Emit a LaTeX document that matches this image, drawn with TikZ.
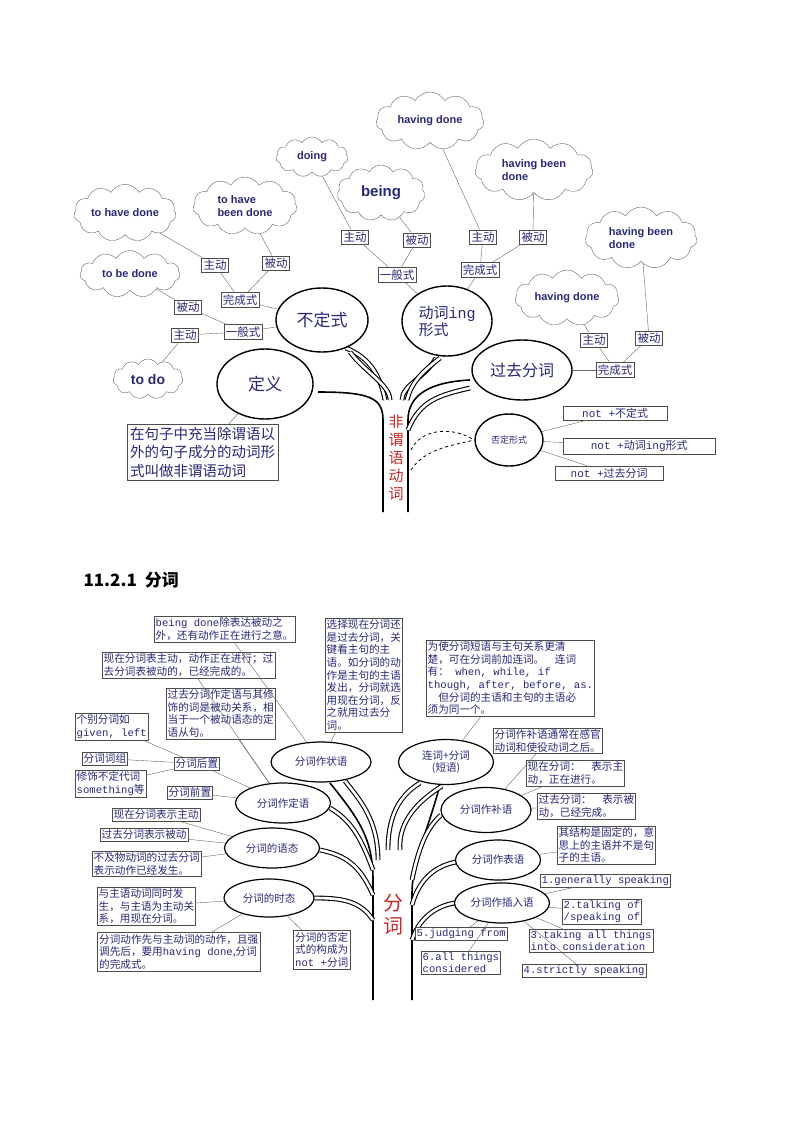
\documentclass[tikz,border=0pt]{standalone}
\usepackage{fontspec}
\setmainfont{Noto Sans CJK SC}
\setmonofont{Liberation Mono}
\newfontfamily\cloudfont{Liberation Sans}
\usetikzlibrary{shapes.symbols,shapes.geometric}
\definecolor{ink}{RGB}{40,40,120}
\definecolor{redink}{RGB}{200,40,40}
\tikzset{
 cl/.style={cloud,cloud puffs=11,cloud puff arc=120,aspect=2.2,draw=black!60,thin,inner sep=0pt,
   font=\cloudfont\bfseries\fontsize{11}{12.5}\selectfont,text=ink,align=left},
 bx/.style={draw=black!70,thin,inner sep=2pt,text=ink,font=\fontsize{11.5}{13}\selectfont,fill=white},
 sb/.style={draw=black!70,thin,inner sep=1.5pt,text=ink,font=\fontsize{10.6}{12.6}\selectfont,align=left,fill=white,anchor=north west},
 el/.style={ellipse,draw=black,line width=1.4pt,inner sep=0pt,text=ink,fill=white},
 ln/.style={draw=black!60,thin},
 br/.style={line width=1.1pt,double=white,double distance=2.6pt},
 tr/.style={line width=1.6pt},
}
\begin{document}
\begin{tikzpicture}[x=1pt,y=-1pt]
\useasboundingbox (0,0) rectangle (800,1132);
% ================= TOP TREE =================
\draw[tr] (383,512) -- (383,420) .. controls (383,398) and (370,392) .. (318,392);
\draw[tr] (408,512) -- (408,420) .. controls (408,395) and (430,382) .. (470,380);
\draw[br] (385,400) .. controls (380,375) and (370,358) .. (346,348);
\draw[br] (390,400) .. controls (390,385) and (365,372) .. (350,352);
\draw[br] (402,400) .. controls (402,385) and (425,378) .. (436,358);
\draw[br] (407,400) .. controls (412,380) and (425,370) .. (440,358);
\draw[br] (408,430) .. controls (420,400) and (440,395) .. (470,388);
\node[font=\fontsize{15}{18}\selectfont,text=redink,align=center] (fw) at (396,458) {非\\谓\\语\\动\\词};

\node[el,minimum width=92,minimum height=64,font=\fontsize{17}{19}\selectfont] (bdx) at (322,320) {不定式};
\node[el,minimum width=90,minimum height=70,font=\fontsize{15}{17}\selectfont,align=left] (ing) at (447,321) {动词\texttt{ing}\\形式};
\node[el,minimum width=96,minimum height=70,font=\fontsize{17}{19}\selectfont] (dy) at (265,384) {定义};
\node[el,minimum width=100,minimum height=60,font=\fontsize{16}{18}\selectfont] (gq) at (522,370) {过去分词};
\node[el,minimum width=68,minimum height=52,font=\fontsize{9}{10}\selectfont] (fd) at (509,440) {否定形式};

\node[cl,minimum width=108,minimum height=58] (c1) at (430,121) {having done};
\node[cl,minimum width=72,minimum height=40] (c2) at (312,157) {doing};
\node[cl,minimum width=118,minimum height=62] (c3) at (534,170) {having been\\done};
\node[cl,minimum width=88,minimum height=56,font=\cloudfont\bfseries\fontsize{15}{17}\selectfont] (c4) at (381,193) {being};
\node[cl,minimum width=102,minimum height=52] (c5) at (125,213) {to have done};
\node[cl,minimum width=104,minimum height=58] (c6) at (245,206) {to have\\been done};
\node[cl,minimum width=112,minimum height=62] (c7) at (641,238) {having been\\done};
\node[cl,minimum width=100,minimum height=46] (c8) at (130,274) {to be done};
\node[cl,minimum width=104,minimum height=56] (c9) at (567,298) {having done};
\node[cl,minimum width=70,minimum height=40,font=\cloudfont\bfseries\fontsize{14}{16}\selectfont] (c10) at (148,379) {to do};

\node[bx] (a1) at (355,237) {主动};
\node[bx] (a2) at (417,240) {被动};
\node[bx] (a3) at (483,237) {主动};
\node[bx] (a4) at (533,237) {被动};
\node[bx] (a5) at (215,265) {主动};
\node[bx] (a6) at (276,263) {被动};
\node[bx] (g1) at (397,275) {一般式};
\node[bx] (g2) at (480,270) {完成式};
\node[bx] (g3) at (240,300) {完成式};
\node[bx] (a7) at (188,307) {被动};
\node[bx] (g4) at (243,332) {一般式};
\node[bx] (a8) at (185,335) {主动};
\node[bx] (a9) at (594,340) {主动};
\node[bx] (a10) at (649,338) {被动};
\node[bx] (g5) at (615,370) {完成式};
\node[bx,minimum width=104,anchor=west,font=\fontsize{11}{13}\selectfont] (n1) at (563,413) {\texttt{not +}不定式};
\node[bx,minimum width=152,anchor=west,font=\fontsize{11}{13}\selectfont] (n2) at (563,446) {\texttt{not +}动词\texttt{ing}形式};
\node[bx,minimum width=108,anchor=west,font=\fontsize{11}{13}\selectfont] (n3) at (555,473) {\texttt{not +}过去分词};
\node[bx,align=left,anchor=north west,font=\fontsize{14.5}{18.5}\selectfont,inner sep=3pt] (def) at (127,424) {在句子中充当除谓语以\\外的句子成分的动词形\\式叫做非谓语动词};

\foreach \p/\q in {c5/a5,c6/a6,a5/g3,a6/g3,g3/bdx,c8/a7,c10/a8,a7/g4,a8/g4,g4/bdx,
  c2/a1,c4/a2,a1/g1,a2/g1,g1/ing,c1/a3,c3/a4,a3/g2,a4/g2,g2/ing,c9/a9,c7/a10,a9/g5,a10/g5,g5/gq,
  fd/n1,fd/n2,fd/n3,dy/def}
  \draw[ln] (\p) -- (\q);
\draw[dashed,thick] (411,450) .. controls (420,430) and (450,425) .. (fd.west);
\draw[dashed,thick] (411,470) .. controls (425,448) and (455,445) .. (fd.west);

% ================= TITLE =================
\node[anchor=west,font=\bfseries\fontsize{17}{20}\selectfont] (tt) at (80,580) {11.2.1\hspace{8pt}分词};

% ================= BOTTOM TREE =================
\draw[tr] (373,1000) -- (373,880) .. controls (373,840) and (360,820) .. (330,783);
\draw[tr] (412,1000) -- (412,895) .. controls (412,860) and (425,840) .. (440,785);
\draw[br] (373,920) .. controls (360,900) and (340,898) .. (314,898);
\draw[br] (373,895) .. controls (360,865) and (345,855) .. (320,850);
\draw[br] (373,870) .. controls (360,835) and (350,820) .. (330,808);
\draw[br] (378,860) .. controls (378,820) and (360,800) .. (345,781);
\draw[br] (388,850) .. controls (388,815) and (400,795) .. (420,783);
\draw[br] (400,850) .. controls (398,820) and (420,800) .. (442,786);
\draw[br] (412,880) .. controls (420,840) and (430,825) .. (441,815);
\draw[br] (412,905) .. controls (420,875) and (440,865) .. (456,862);
\draw[br] (412,940) .. controls (420,915) and (440,905) .. (455,903);
\node[font=\fontsize{20}{23}\selectfont,text=redink,align=center] (fc) at (393,915) {分\\词};

\tikzset{be/.style={el,line width=1.2pt,font=\fontsize{10.5}{12}\selectfont,align=center}}
\node[be,minimum width=100,minimum height=40] (e1) at (321,762) {分词作状语};
\node[be,minimum width=95,minimum height=45] (e2) at (446,762) {连词+分词\\(短语)};
\node[be,minimum width=95,minimum height=40] (e3) at (283,803) {分词作定语};
\node[be,minimum width=90,minimum height=45] (e4) at (486,810) {分词作补语};
\node[be,minimum width=95,minimum height=40] (e5) at (272,848) {分词的语态};
\node[be,minimum width=85,minimum height=40] (e6) at (498,860) {分词作表语};
\node[be,minimum width=90,minimum height=38] (e7) at (269,898) {分词的时态};
\node[be,minimum width=95,minimum height=40] (e8) at (502,903) {分词作插入语};

\node[sb] (b1) at (154,616) {\texttt{being done}除表达被动之\\外，还有动作正在进行之意。};
\node[sb] (b2) at (102,652) {现在分词表主动，动作正在进行；过\\去分词表被动的，已经完成的。};
\node[sb] (b3) at (325,618) {选择现在分词还\\是过去分词，关\\键看主句的主\\语。如分词的动\\作是主句的主语\\发出，分词就选\\用现在分词，反\\之就用过去分\\词。};
\node[sb] (b4) at (426,640) {为使分词短语与主句关系更清\\楚，可在分词前加连词。\quad 连词\\有：\texttt{ when, while, if}\\\texttt{though, after, before, as.}\\\quad 但分词的主语和主句的主语必\\须为同一个。};
\node[sb] (b5) at (166,688) {过去分词作定语与其修\\饰的词是被动关系，相\\当于一个被动语态的定\\语从句。};
\node[sb] (b6) at (75,713) {个别分词如\\\texttt{given, left}};
\node[sb] (b7) at (82,752) {分词词组};
\node[sb] (b8) at (174,757) {分词后置};
\node[sb] (b9) at (75,770) {修饰不定代词\\\texttt{something}等};
\node[sb] (b10) at (167,786) {分词前置};
\node[sb] (b11) at (493,728) {分词作补语通常在感官\\动词和使役动词之后。};
\node[sb] (b12) at (526,760) {现在分词：\quad 表示主\\动，正在进行。};
\node[sb] (b13) at (537,793) {过去分词：\quad 表示被\\动，已经完成。};
\node[sb] (b14) at (112,808) {现在分词表示主动};
\node[sb] (b15) at (100,828) {过去分词表示被动};
\node[sb] (b16) at (92,851) {不及物动词的过去分词\\表示动作已经发生。};
\node[sb] (b17) at (557,826) {其结构是固定的，意\\思上的主语并不是句\\子的主语。};
\node[sb] (b18) at (540,874) {\texttt{1.generally speaking}};
\node[sb] (b19) at (97,887) {与主语动词同时发\\生，与主语为主动关\\系，用现在分词。};
\node[sb] (b20) at (562,899) {\texttt{2.talking of}\\\texttt{/speaking of}};
\node[sb] (b21) at (415,927) {\texttt{5.judging from}};
\node[sb] (b22) at (529,929) {\texttt{3.taking all things}\\\texttt{into consideration}};
\node[sb,inner sep=2pt] (b23) at (97,932) {分词动作先与主动词的动作，且强\\调先后，要用\texttt{having done},分词\\的完成式。};
\node[sb,inner sep=2pt] (b24) at (293,930) {分词的否定\\式的构成为\\\texttt{not +}分词};
\node[sb] (b25) at (421,951) {\texttt{6.all things}\\\texttt{considered}};
\node[sb] (b26) at (522,964) {\texttt{4.strictly speaking}};

\foreach \p/\q in {b1/e1,b2/e3,b3/e1,b4/e2,b5/e3,b6/b8,b7/b8,b9/b8,b8/e3,b10/e3,
  b11/e4,b12/e4,b13/e4,b14/e5,b15/e5,b16/e5,b17/e6,b18/e8,b19/e7,b20/e8,b21/e8,b22/e8,
  b23/e7,b24/e7,b25/e8,b26/e8}
  \draw[ln] (\p) -- (\q);
\end{tikzpicture}
\end{document}
